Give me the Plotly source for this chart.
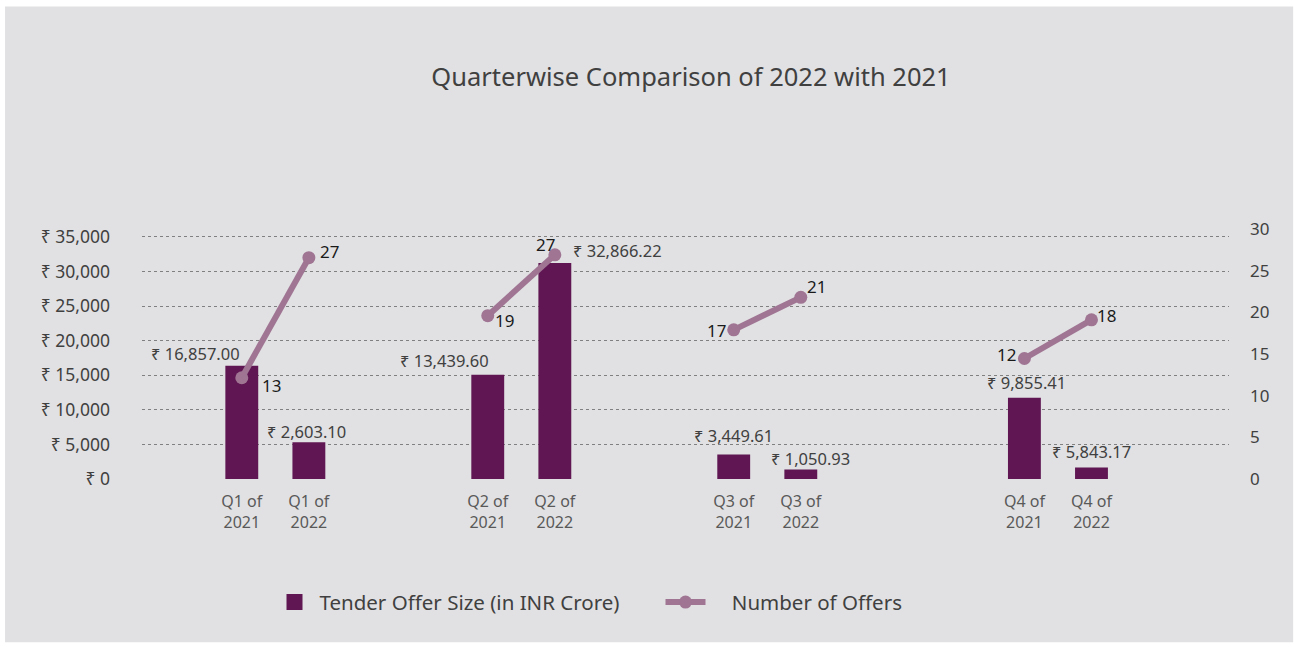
import plotly.graph_objects as go

# ---------------- data ----------------
quarters = ["Q1", "Q2", "Q3", "Q4"]
years = ["2021", "2022"]
categories = [f"{q} of {y}" for q in quarters for y in years]
tick_labels = [f"{q} of<br>{y}" for q in quarters for y in years]

# bar heights as drawn (INR crore)
offer_size = [16370, 5310, 15070, 31230, 3530, 1370, 11760, 1660]
offer_size_labels = ["₹ 16,857.00", "₹ 2,603.10", "₹ 13,439.60", "₹ 32,866.22",
                     "₹ 3,449.61", "₹ 1,050.93", "₹ 9,855.41", "₹ 5,843.17"]

# number of offers as drawn
num_offers = [12.15, 26.56, 19.6, 26.9, 17.9, 21.8, 14.46, 19.1]
num_offers_labels = ["13", "27", "19", "27", "17", "21", "12", "18"]

left_ticks = [0, 5000, 10000, 15000, 20000, 25000, 30000, 35000]
right_ticks = [0, 5, 10, 15, 20, 25, 30]

series_names = ["Tender Offer Size (in INR Crore)", "Number of Offers"]

# ---------------- layout / styling ----------------
BAR_COLOR = "#5f1652"
LINE_COLOR = "#9f7593"
BG = "#e1e1e3"
TXT = "#404040"
FONT = "Noto Sans"

# horizontal slot layout: start slot of each quarter group, spacing inside a pair
group_start = [0, 11, 22, 35]
pair_step = 3
xpos = [group_start[i // 2] + (i % 2) * pair_step for i in range(len(categories))]

# line with breaks between quarter groups
x_line, y_line = [], []
for i in range(len(categories)):
    x_line.append(xpos[i])
    y_line.append(num_offers[i])
    if i % 2 == 1 and i < len(categories) - 1:
        x_line.append(None)
        y_line.append(None)

fig = go.Figure()
fig.add_trace(go.Bar(
    x=xpos, y=offer_size, name=series_names[0],
    marker=dict(color=BAR_COLOR, line=dict(width=0)), width=1.47,
    yaxis="y", showlegend=False, hovertext=categories,
))
fig.add_trace(go.Scatter(
    x=[None], y=[None], name=series_names[0], mode="markers",
    marker=dict(color=BAR_COLOR, symbol="square", size=18), yaxis="y",
))
fig.add_trace(go.Scatter(
    x=x_line, y=y_line, name="\u00a0\u00a0\u00a0\u00a0" + series_names[1],
    mode="lines+markers",
    line=dict(color=LINE_COLOR, width=6), marker=dict(color=LINE_COLOR, size=13),
    connectgaps=False, yaxis="y2",
))

# bar value labels (offsets from bar top centre, px)
bar_label_dx = [-46, -2, -43, 63, 0, 10, 2, 0]
bar_label_dy = [12, 11, 14, 12, 19, 11, 15, 16]
for i in range(len(categories)):
    fig.add_annotation(
        x=xpos[i], y=offer_size[i], xref="x", yref="y", text=offer_size_labels[i],
        showarrow=False, xanchor="center", yanchor="middle",
        xshift=bar_label_dx[i], yshift=bar_label_dy[i],
        font=dict(family=FONT, size=16.5, color=TXT),
    )

# line value labels (offsets from marker centre, px)
line_label_dx = [30, 21, 17, -9, -17, 16, -18, 15]
line_label_dy = [-8, 6, -5, 10, -1, 11, 4, 4]
for i in range(len(categories)):
    fig.add_annotation(
        x=xpos[i], y=num_offers[i], xref="x", yref="y2", text=num_offers_labels[i],
        showarrow=False, xanchor="center", yanchor="middle",
        xshift=line_label_dx[i], yshift=line_label_dy[i],
        font=dict(family=FONT, size=17, color="#1a1a1a"),
    )

fig.add_shape(type="rect", xref="paper", yref="paper",
              x0=-0.126, x1=1.059, y0=-0.6527, y1=1.890,
              fillcolor=BG, line=dict(width=0), layer="below")

fig.update_layout(
    width=1298, height=648,
    margin=dict(l=142, r=69, t=229, b=168.5, pad=0),
    paper_bgcolor="white", plot_bgcolor=BG,
    font=dict(family=FONT, size=16, color=TXT),
    title=dict(text="Quarterwise Comparison of 2022 with 2021",
               x=691 / 1298, xanchor="center", y=1 - 77 / 648, yanchor="middle",
               font=dict(family=FONT, size=25.5, color=TXT)),
    xaxis=dict(range=[-4.463, 44.15], tickvals=xpos, ticktext=tick_labels,
               showgrid=False, zeroline=False, showline=False, ticks="",
               tickfont=dict(size=16, color="#595959"), ticklabelstandoff=11),
    yaxis=dict(range=[0, 36140], tickvals=left_ticks,
               ticktext=[f"₹ {v:,}" for v in left_ticks],
               showgrid=True, gridcolor="#808080",
               griddash="3px,3px", gridwidth=1, zeroline=False, showline=False,
               ticks="", ticklabelstandoff=31, tickfont=dict(size=17.5, color=TXT)),
    yaxis2=dict(range=[0, 30], tickvals=right_ticks, overlaying="y", side="right",
                showgrid=False, zeroline=False, showline=False, ticks="",
                ticklabelstandoff=20, tickfont=dict(size=17, color=TXT)),
    legend=dict(orientation="h", x=0.1173, xanchor="left", y=-0.493, yanchor="middle",
                font=dict(family=FONT, size=20.5, color=TXT), bgcolor="rgba(0,0,0,0)",
                itemwidth=40, traceorder="normal", entrywidth=336),
    bargap=0.5,
)

fig.write_html("out.html")
